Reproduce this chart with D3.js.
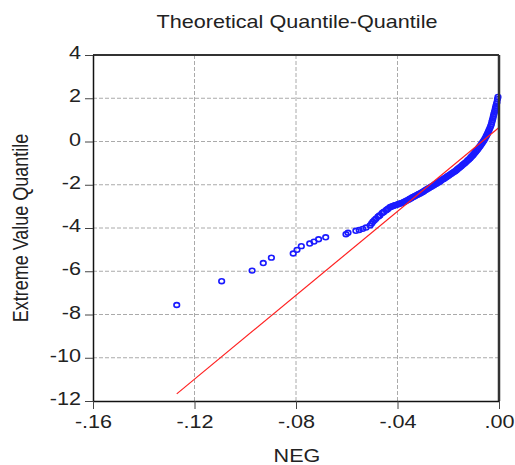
<!DOCTYPE html>
<html>
<head>
<meta charset="utf-8">
<script src="https://cdn.jsdelivr.net/npm/d3@7"></script>
<style>
  html, body { margin: 0; padding: 0; background: #ffffff; }
  svg { display: block; }
  text { font-family: "Liberation Sans", Arial, sans-serif; fill: #222; }
</style>
</head>
<body>
<svg id="chart" width="515" height="465"></svg>
<script>
// ---------- data ----------
const title = "Theoretical Quantile-Quantile";
const xTitle = "NEG";
const yTitle = "Extreme Value Quantile";

const xTickValues = [-0.16, -0.12, -0.08, -0.04, 0.00];
const xTickLabels = ["-.16", "-.12", "-.08", "-.04", ".00"];
const yTickValues = [4, 2, 0, -2, -4, -6, -8, -10, -12];
const yTickLabels = ["4", "2", "0", "-2", "-4", "-6", "-8", "-10", "-12"];

// observed NEG quantiles (x) vs theoretical extreme value quantiles (y)
const qqX = [
  -0.1270, -0.1093, -0.0973, -0.0929, -0.0897, -0.0811, -0.0796, -0.0779, -0.0746, -0.0729,
  -0.0711, -0.0683, -0.0603, -0.0595, -0.0564, -0.0551, -0.0537, -0.0524, -0.0508,
  -0.0502, -0.0497, -0.0491, -0.0485, -0.0477, -0.0473, -0.0469, -0.0461, -0.0457, -0.0453,
  -0.0445, -0.0441, -0.0437, -0.0430, -0.0425, -0.0420, -0.0415, -0.0410, -0.0405, -0.0400,
  -0.0395, -0.0390, -0.0385, -0.0380, -0.0375, -0.0370, -0.0365, -0.0360, -0.0355, -0.0351,
  -0.0346, -0.0341, -0.0336, -0.0331, -0.0326, -0.0321, -0.0316, -0.0311, -0.0306, -0.0301,
  -0.0296, -0.0292, -0.0287, -0.0282, -0.0277, -0.0272, -0.0267, -0.0262, -0.0257, -0.0252,
  -0.0247, -0.0242, -0.0237, -0.0232, -0.0228, -0.0223, -0.0218, -0.0213, -0.0208, -0.0203,
  -0.0198, -0.0193, -0.0188, -0.0183, -0.0178, -0.0173, -0.0168, -0.0164, -0.0159, -0.0154,
  -0.0149, -0.0144, -0.0139, -0.0134, -0.0129, -0.0124, -0.0119, -0.0114, -0.0110, -0.0106,
  -0.0102, -0.0099, -0.0095, -0.0091, -0.0087, -0.0083, -0.0079, -0.0075, -0.0071, -0.0067,
  -0.0063, -0.0059, -0.0055, -0.0051, -0.0048, -0.0045, -0.0042, -0.0039, -0.0036, -0.0033,
  -0.0030, -0.0028, -0.0026, -0.0024, -0.0022, -0.0020, -0.0018, -0.0016, -0.0014, -0.0012,
  -0.0010, -0.0008, -0.0006, -0.0004
];
const qqY = [
  -7.56, -6.46, -5.97, -5.62, -5.37, -5.18, -5.01, -4.84, -4.72, -4.63,
  -4.52, -4.43, -4.29, -4.22, -4.13, -4.09, -4.04, -3.98, -3.88,
  -3.79, -3.71, -3.64, -3.57, -3.48, -3.44, -3.41, -3.31, -3.28, -3.25,
  -3.18, -3.14, -3.11, -3.04, -3.02, -2.99, -2.97, -2.95, -2.93, -2.91,
  -2.89, -2.87, -2.85, -2.83, -2.80, -2.77, -2.74, -2.71, -2.68, -2.65,
  -2.62, -2.58, -2.55, -2.52, -2.49, -2.46, -2.43, -2.40, -2.37, -2.33,
  -2.30, -2.26, -2.23, -2.19, -2.16, -2.12, -2.09, -2.05, -2.02, -1.98,
  -1.95, -1.91, -1.88, -1.84, -1.80, -1.76, -1.73, -1.69, -1.65, -1.61,
  -1.57, -1.53, -1.49, -1.45, -1.41, -1.37, -1.33, -1.28, -1.24, -1.19,
  -1.14, -1.09, -1.04, -0.99, -0.94, -0.88, -0.83, -0.77, -0.72, -0.67,
  -0.62, -0.57, -0.52, -0.46, -0.40, -0.35, -0.28, -0.22, -0.15, -0.08,
  -0.01, 0.06, 0.14, 0.23, 0.30, 0.37, 0.45, 0.53, 0.62, 0.71,
  0.80, 0.90, 0.99, 1.08, 1.18, 1.27, 1.36, 1.45, 1.55, 1.64,
  1.73, 1.82, 1.96, 2.06
];

// reference (fitted) line end points
const refLineX = [-0.127, 0.0];
const refLineY = [-11.67, 0.65];

// ---------- chart ----------
const svg = d3.select("#chart");
const M = { left: 93, right: 499, top: 55, bottom: 401 };
const SX = 1.2; // horizontal text stretch of the original rendering

const x = d3.scaleLinear().domain([-0.16, 0]).range([M.left, M.right]);
const y = d3.scaleLinear().domain([-12, 4]).range([M.bottom, M.top]);

// grid
const grid = svg.append("g");
grid.selectAll("line.gy").data(yTickValues.slice(1, -1)).join("line")
  .attr("x1", M.left).attr("x2", M.right)
  .attr("y1", d => y(d)).attr("y2", d => y(d))
  .attr("stroke", "#aaaaaa").attr("stroke-width", 1).attr("stroke-dasharray", "4,2");
grid.selectAll("line.gx").data(xTickValues.slice(1, -1)).join("line")
  .attr("y1", M.top).attr("y2", M.bottom)
  .attr("x1", d => x(d)).attr("x2", d => x(d))
  .attr("stroke", "#aaaaaa").attr("stroke-width", 1).attr("stroke-dasharray", "4,2");

// points
svg.append("g").selectAll("ellipse").data(d3.range(qqX.length)).join("ellipse")
  .attr("cx", i => x(qqX[i])).attr("cy", i => y(qqY[i]))
  .attr("rx", 2.8).attr("ry", 2.4)
  .attr("fill", "none").attr("stroke", "#1a1aff").attr("stroke-width", 1.6);

// reference line
svg.append("line")
  .attr("x1", x(refLineX[0])).attr("y1", y(refLineY[0]))
  .attr("x2", x(refLineX[1])).attr("y2", y(refLineY[1]))
  .attr("stroke", "#ff2020").attr("stroke-width", 1.2);

// frame
svg.append("line").attr("x1", M.left).attr("x2", M.right).attr("y1", M.top).attr("y2", M.top)
  .attr("stroke", "#333").attr("stroke-width", 2);
svg.append("line").attr("x1", M.right).attr("x2", M.right).attr("y1", M.top).attr("y2", M.bottom)
  .attr("stroke", "#333").attr("stroke-width", 2.5);

// axes
const yAxis = svg.append("g").attr("transform", `translate(${M.left},0)`)
  .call(d3.axisLeft(y).tickValues(yTickValues).tickSize(8).tickSizeOuter(0)
    .tickFormat((d, i) => yTickLabels[i]));
const xAxis = svg.append("g").attr("transform", `translate(0,${M.bottom})`)
  .call(d3.axisBottom(x).tickValues(xTickValues).tickSize(8).tickSizeOuter(0)
    .tickFormat((d, i) => xTickLabels[i]));

[yAxis, xAxis].forEach(g => {
  g.select(".domain").attr("stroke", "#111").attr("stroke-width", 1.5);
  g.selectAll(".tick line").attr("stroke", "#444").attr("stroke-width", 1);
  g.selectAll(".tick text").attr("font-size", 18).attr("fill", "#222")
    .attr("font-family", "Liberation Sans, Arial, sans-serif");
});
yAxis.selectAll(".tick text").attr("x", -10).attr("dy", "0.2em")
  .attr("transform", `scale(${SX},1)`);
xAxis.selectAll(".tick text").attr("y", 10).attr("dy", "0.95em")
  .attr("transform", `scale(${SX},1)`);

// titles
svg.append("text").attr("transform", `translate(297,28) scale(${SX},1)`)
  .attr("text-anchor", "middle").attr("font-size", 18).text(title);
svg.append("text").attr("transform", `translate(297,462) scale(${SX},1)`)
  .attr("text-anchor", "middle").attr("font-size", 18).text(xTitle);
svg.append("text").attr("transform", `translate(28,228) scale(${SX},1) rotate(-90)`)
  .attr("text-anchor", "middle").attr("font-size", 18).text(yTitle);
</script>
</body>
</html>
